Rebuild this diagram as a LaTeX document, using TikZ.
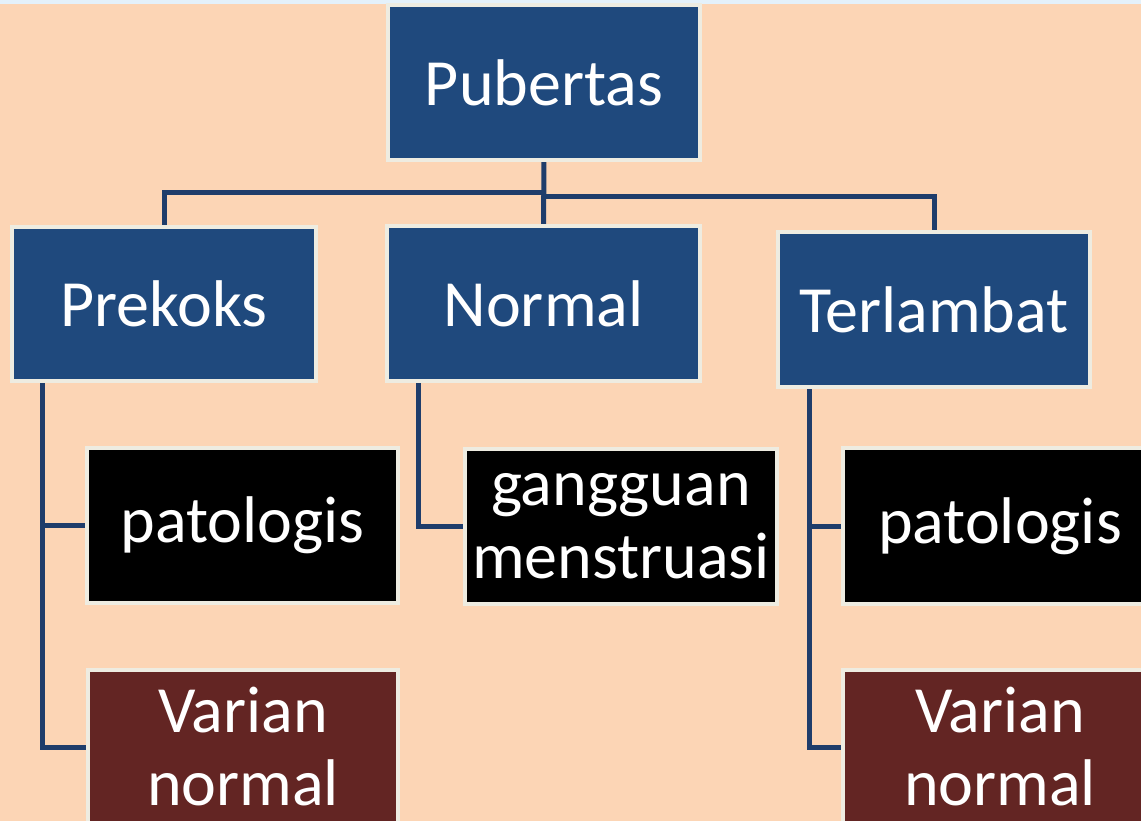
\documentclass[tikz,border=0pt]{standalone}
\usepackage{fontspec}
\setmainfont{Carlito}
\definecolor{bgpeach}{HTML}{FCD5B5}
\definecolor{topstrip}{HTML}{E4F1FA}
\definecolor{boxblue}{HTML}{1F497D}
\definecolor{boxred}{HTML}{632523}
\definecolor{cream}{HTML}{EEECE1}
\definecolor{navy}{HTML}{1F3D6B}
\tikzset{
  box/.style={draw=cream, line width=4pt, inner sep=0pt, text=white, align=center,
    font=\fontsize{66}{73}\selectfont, minimum width=312pt, minimum height=155pt},
  bluebox/.style={box, fill=boxblue},
  blackbox/.style={box, fill=black},
  redbox/.style={box, fill=boxred},
  conn/.style={draw=navy, line width=5pt}
}
\begin{document}
\begin{tikzpicture}[x=1pt,y=-1pt]
\useasboundingbox (0,0) rectangle (1141,821);
\clip (0,0) rectangle (1141,821);
\fill[bgpeach] (0,0) rectangle (1141,821);
\fill[topstrip] (0,0) rectangle (1141,4);
% connectors (behind boxes)
\coordinate (jl) at (543,193);
\coordinate (jr) at (543,197);
\coordinate (pubC) at (544,82.5);
\coordinate (prekC) at (164,304);
\coordinate (normC) at (543.5,303.5);
\coordinate (terlC) at (934,309.5);
\coordinate (patLC) at (242.5,525.5);
\coordinate (varLC) at (243,747);
\coordinate (ganC) at (621,526.5);
\coordinate (patRC) at (1000,526);
\coordinate (varRC) at (1000,747);
\coordinate (prekDrop) at (42,383);
\coordinate (normDrop) at (418,383);
\coordinate (terlDrop) at (809,389);
\draw[conn] (pubC) -- (normC);
\draw[conn] (prekC) |- (jl);
\draw[conn] (terlC) |- (jr);
\draw[conn] (prekDrop) |- (patLC);
\draw[conn] (prekDrop) |- (varLC);
\draw[conn] (normDrop) |- (ganC);
\draw[conn] (terlDrop) |- (patRC);
\draw[conn] (terlDrop) |- (varRC);
% boxes
\node[bluebox] (pub) at (pubC) {Pubertas};
\node[bluebox, minimum width=304pt, minimum height=154pt] (prek) at (prekC) {Prekoks};
\node[bluebox, minimum width=313pt] (norm) at (normC) {Normal};
\node[bluebox] (terl) at (terlC) {Terlambat};
\node[blackbox, minimum width=311pt] (patL) at (patLC) {patologis};
\node[redbox, minimum width=310pt, minimum height=154pt] (varL) at (varLC) {Varian\\normal};
\node[blackbox] (gan) at (ganC) {gangguan\\menstruasi};
\node[blackbox, minimum width=314pt, minimum height=156pt] (patR) at (patRC) {patologis};
\node[redbox, minimum width=314pt, minimum height=154pt] (varR) at (varRC) {Varian\\normal};
\end{tikzpicture}
\end{document}
